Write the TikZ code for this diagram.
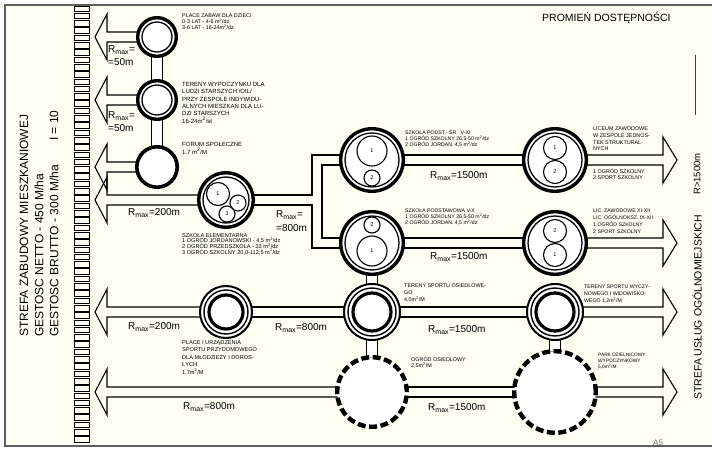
\documentclass[tikz,border=0pt]{standalone}
\usepackage{fontspec}
\setmainfont{Liberation Sans}
\usetikzlibrary{calc,backgrounds}
\definecolor{paper}{RGB}{254,253,242}
\definecolor{framec}{RGB}{95,95,95}
\newcommand{\sq}{\textsuperscript{2}}
\newcommand{\rmx}[1]{R\textsubscript{max}#1}
% ring nodes: name, x, y, outer radius
\newcommand{\dring}[4]{%
 \node[circle,draw,fill=white,line width=3.4pt,inner sep=0pt,minimum size={(2*#4-3.4)*1pt}] (#1) at (#2,#3) {};
 \node[circle,draw,line width=1.3pt,inner sep=0pt,minimum size={(2*#4-12)*1pt}] (#1i) at (#2,#3) {};}
\newcommand{\tring}[4]{%
 \node[circle,draw,fill=white,line width=2pt,inner sep=0pt,minimum size={(2*#4-2)*1pt}] (#1) at (#2,#3) {};
 \node[circle,draw,line width=1.4pt,inner sep=0pt,minimum size={(2*#4-10)*1pt}] (#1m) at (#2,#3) {};
 \node[circle,draw,line width=3.2pt,inner sep=0pt,minimum size={(2*#4-20)*1pt}] (#1i) at (#2,#3) {};}
\newcommand{\sring}[4]{%
 \node[circle,draw,fill=white,line width=3.6pt,inner sep=0pt,minimum size={(2*#4-3.6)*1pt}] (#1) at (#2,#3) {};}
\newcommand{\dshring}[4]{%
 \node[circle,draw,fill=white,line width=4.4pt,dash pattern=on 8pt off 3.5pt,inner sep=0pt,minimum size={(2*#4-4.4)*1pt}] (#1) at (#2,#3) {};}
\newcommand{\numc}[5]{%
 \node[circle,draw,line width=1.1pt,inner sep=0pt,minimum size={(2*#4)*1pt},font=\fontsize{5.5}{6}\selectfont] (#1) at (#2,#3) {#5};}
% block arrows
\newcommand{\larr}[1]{\draw[shaft] let \p1=(#1.center) in (\x1,\y1+5pt) -- (107pt,\y1+5pt) -- (107pt,\y1+23pt) -- (95pt,\y1) -- (107pt,\y1-23pt) -- (107pt,\y1-5pt) -- (\x1,\y1-5pt);}
\newcommand{\rarr}[1]{\draw[shaft] let \p1=(#1.center) in (\x1,\y1+5pt) -- (663pt,\y1+5pt) -- (663pt,\y1+23pt) -- (677pt,\y1) -- (663pt,\y1-23pt) -- (663pt,\y1-5pt) -- (\x1,\y1-5pt);}
\newcommand{\lnk}[2]{\draw[shaft] let \p1=(#1.center),\p2=(#2.center) in (\x1,\y1+5pt) -- (\x2,\y1+5pt) (\x1,\y1-5pt) -- (\x2,\y1-5pt);}
\tikzset{
 shaft/.style={line width=1.1pt,line join=miter},
 neck/.style={draw,line width=1pt,fill=white,inner sep=0pt,minimum width=11pt},
 lbl/.style args={#1/#2}{anchor=north west,inner sep=0pt,align=left,font={\fontsize{#1}{#2}\selectfont\lineskiplimit=-5pt}},
 rm/.style={anchor=west,inner sep=0pt,font=\fontsize{10}{11}\selectfont},
 vtxt/.style={rotate=90,anchor=west,inner sep=0pt,font=\fontsize{#1}{#1}\selectfont},
}
\begin{document}
\begin{tikzpicture}[x=1pt,y=-1pt]
\begin{scope}[on background layer]
 \fill[white] (0,0) rectangle (712,449);
 \fill[paper] (5,5) rectangle (712,446);
\end{scope}
\useasboundingbox (0,0) rectangle (712,449);

% ---- necks between stacked circles (drawn first, circles cover their ends)
\node[neck,minimum height=26pt] (k1) at (157,68.5) {};
\node[neck,minimum height=28pt] (k2) at (157,133) {};
\node[neck,minimum height=12pt] (k3) at (372,279.5) {};
\node[neck,minimum height=18pt] (k4) at (372,348) {};
\node[neck,minimum height=13pt] (k5) at (555,345) {};

% ---- circles
\dring{c1}{157}{37}{21}
\dring{c2}{157}{100}{21}
\sring{c3}{157}{167}{22}
\dring{c4}{226}{200}{29}
\numc{c4a}{218}{194}{11.5}{1}
\numc{c4b}{238}{203}{8}{2}
\numc{c4c}{227}{214}{8}{3}
\tring{e1}{226}{312}{27}
\dring{m1}{372}{160}{33}
\numc{m1a}{372}{151}{15}{1}
\numc{m1b}{372}{178}{8}{2}
\dring{m2}{372}{243}{33}
\numc{m2b}{372}{225}{8}{2}
\numc{m2a}{372}{251}{15}{1}
\tring{m3}{372}{312}{29}
\dshring{d1}{372}{392}{37}
\dring{r1}{555}{160}{33}
\numc{r1a}{555}{148}{11.5}{1}
\numc{r1b}{555}{172}{11.5}{2}
\dring{r2}{555}{243}{33}
\numc{r2b}{555}{231}{11.5}{2}
\numc{r2a}{555}{255}{11.5}{1}
\tring{r3}{555}{312}{29}
\dshring{d2}{555}{392}{43}

% ---- connectors
\begin{scope}[on background layer]
\larr{c1}\larr{c2}\larr{c3}\larr{c4}\larr{e1}\larr{d1}
\lnk{m1}{r1}\lnk{m2}{r2}\lnk{e1}{m3}\lnk{m3}{r3}\lnk{d1}{d2}
\rarr{r1}\rarr{r2}\rarr{r3}\rarr{d2}
\draw[shaft] let \p1=(c4.center),\p2=(m1.center),\p3=(m2.center) in
 (\x1,\y1+5pt) -- (312pt,\y1+5pt) -- (312pt,\y2+5pt) -- (\x2,\y2+5pt)
 (\x1,\y1-5pt) -- (312pt,\y1-5pt) -- (312pt,\y3-5pt) -- (\x3,\y3-5pt)
 (\x2,\y2-5pt) -- (322pt,\y2-5pt) -- (322pt,\y3+5pt) -- (\x3,\y3+5pt);
\end{scope}

% ---- brick column
\foreach \i in {0,...,59}{\draw[line width=0.8pt] (74.5,{6+\i*7.3}) rectangle ++(15,5.6);}

% ---- frame
\draw[framec,line width=1.6pt] (712,5) -- (5,5) -- (5,446) -- (712,446);
\draw[black!75,line width=0.8pt] (695,55) -- (695,115);

% ---- descriptions
\node[lbl=5.4/5.6] (t1) at (182,14) {PLACE ZABAW DLA DZIECI\\0-3 LAT - 4-6 m\sq/dz\\3-6 LAT - 16-24m\sq/dz};
\node[lbl=6/7.4] (t2) at (182,82) {TERENY WYPOCZYNKU DLA\\LUDZI STARSZYCH /OIL/\\PRZY ZESPOLE INDYWIDU-\\ALNYCH MIESZKAŃ DLA LU-\\DZI STARSZYCH\\16-24m\sq/st};
\node[lbl=6/8] (t3) at (182,142) {FORUM SPOŁECZNE\\1,7 m\sq/M};
\node[lbl=5.6/5.8] (t4) at (182,233) {SZKOŁA ELEMENTARNA\\1 OGRÓD JORDANOWSKI - 4,5 m\sq/dz\\2 OGRÓD PRZEDSZKOLA - 33 m\sq/dz\\3 OGRÓD SZKOLNY 20,0-112,5 m\sq/dz};
\node[lbl=5.6/7.6] (t5) at (182,340) {PLACE I URZĄDZENIA\\SPORTU PRZYDOMOWEGO\\DLA MŁODZIEŻY I DOROS-\\ŁYCH\\1,7m\sq/M};
\node[lbl=5.2/5.6] (t6) at (405,130) {SZKOŁA PODST.- ŚR. \ V-XI\\1 OGRÓD SZKOLNY 26,5-50 m\sq/dz\\2 OGRÓD JORDAN. 4,5 m\sq/dz};
\node[lbl=5.2/5.6] (t7) at (405,209) {SZKOŁA PODSTAWOWA V-X\\1 OGRÓD SZKOLNY 26,5-50 m\sq/dz\\2 OGRÓD JORDAN. 4,5 m\sq/dz};
\node[lbl=5.4/6.8] (t8) at (404,284) {TERENY SPORTU OSIEDLOWE-\\GO\\4,0m\sq/M};
\node[lbl=5.4/6] (t9) at (411,357) {OGRÓD OSIEDLOWY\\2,5m\sq/M};
\node[lbl=5.4/6.6] (t10) at (593,127) {LICEUM ZAWODOWE\\W ZESPOLE JEDNOS-\\TEK STRUKTURAL-\\NYCH};
\node[lbl=5.4/6] (t11) at (593,169) {1 OGRÓD SZKOLNY\\2 SPORT SZKOLNY};
\node[lbl=5.2/7] (t12) at (593,209) {LIC. ZAWODOWE XI-XII\\LIC. OGÓLNOKSZ. IX-XII\\1 OGRÓD SZKOLNY\\2 SPORT SZKOLNY};
\node[lbl=5.2/7] (t13) at (584,285) {TERENY SPORTU WYCZY-\\NOWEGO I WIDOWISKO-\\WEGO 1,2m\sq/M};
\node[lbl=4.8/5.8] (t14) at (598,353) {PARK DZIELNICOWY\\WYPOCZYNKOWY\\5,0m\sq/M};

% ---- radius labels
\node[rm] (ra1) at (108,50) {\rmx{=}};
\node[rm] (ra2) at (108,62) {=50m};
\node[rm] (rb1) at (108,116) {\rmx{=}};
\node[rm] (rb2) at (108,128) {=50m};
\node[rm] (rd) at (128,213) {\rmx{=200m}};
\node[rm] (rk1) at (276,215) {\rmx{=}};
\node[rm] (rk2) at (276,228) {=800m};
\node[rm] (r1l) at (430,176) {\rmx{=1500m}};
\node[rm] (r2l) at (430,257) {\rmx{=1500m}};
\node[rm] (re1) at (128,327) {\rmx{=200m}};
\node[rm] (re2) at (275,328) {\rmx{=800m}};
\node[rm] (re3) at (428,330) {\rmx{=1500m}};
\node[rm] (rf1) at (183,407) {\rmx{=800m}};
\node[rm] (rf2) at (428,408) {\rmx{=1500m}};

% ---- titles
\node[anchor=west,inner sep=0pt,font=\fontsize{10.5}{11}\selectfont] (prom) at (542,18) {PROMIEŃ DOSTĘPNOŚCI};
\node[vtxt=12] (z1) at (24,337) {STREFA ZABUDOWY MIESZKANIOWEJ};
\node[vtxt=12] (z2) at (39,337) {GESTOSC NETTO - 450 M/ha};
\node[vtxt=12] (z3) at (54,337) {GESTOSC BRUTTO - 300 M/ha};
\node[vtxt=12] (z4) at (54,141) {I = 10};
\node[vtxt=10.5] (s1) at (697,400) {STREFA USŁUG OGÓLNOMIEJSKICH};
\node[vtxt=9.5] (s2) at (697,195) {R>1500m};
\node[anchor=south west,inner sep=0pt,text=black!55,font=\fontsize{8}{8}\selectfont] (a5) at (653,446) {A5};
\end{tikzpicture}
\end{document}
